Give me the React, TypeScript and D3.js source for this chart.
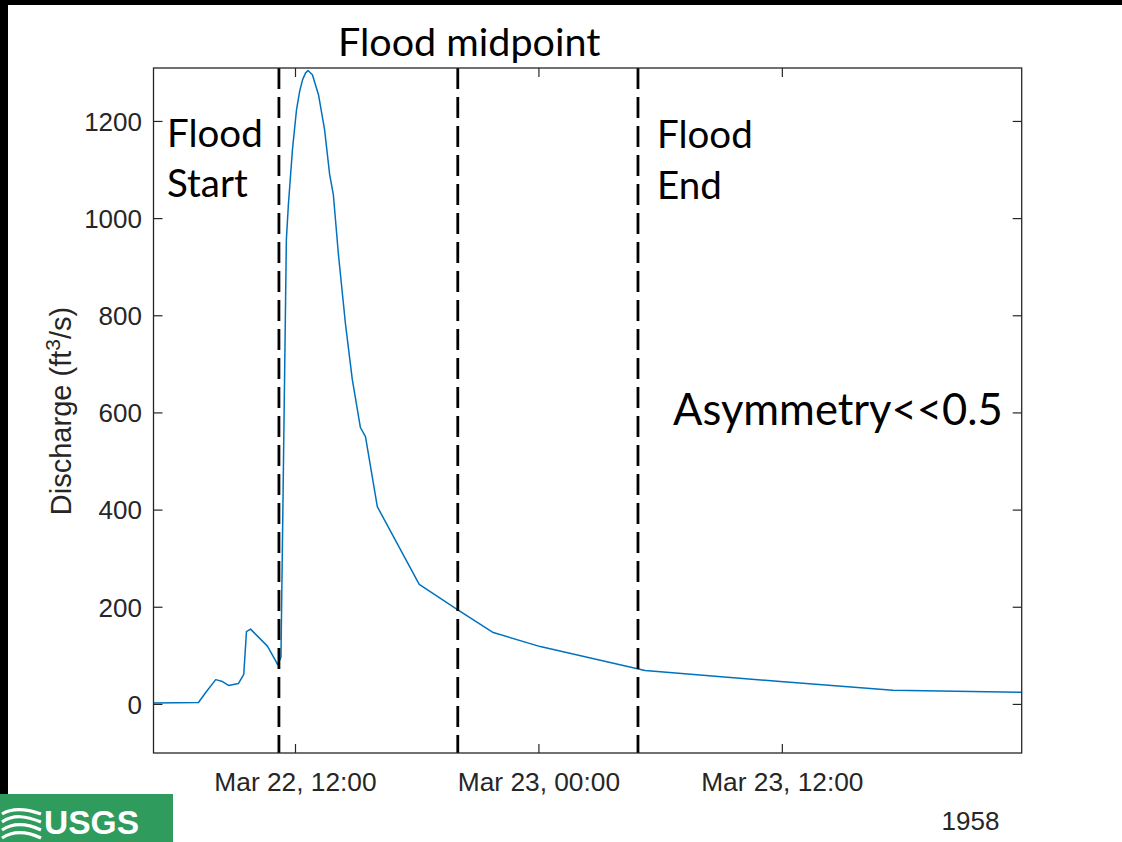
import React from "react";
import * as d3 from "d3";

// ---- data (discharge record, March 1958) ----
const times: string[] = [
  "1958-03-22 05:00", "1958-03-22 07:13", "1958-03-22 07:35", "1958-03-22 08:04",
  "1958-03-22 08:24", "1958-03-22 08:42", "1958-03-22 09:11", "1958-03-22 09:27",
  "1958-03-22 09:35", "1958-03-22 09:47", "1958-03-22 10:37", "1958-03-22 11:01",
  "1958-03-22 11:07", "1958-03-22 11:17", "1958-03-22 11:33", "1958-03-22 11:39",
  "1958-03-22 11:51", "1958-03-22 12:03", "1958-03-22 12:12", "1958-03-22 12:21",
  "1958-03-22 12:30", "1958-03-22 12:37", "1958-03-22 12:50", "1958-03-22 13:08",
  "1958-03-22 13:26", "1958-03-22 13:41", "1958-03-22 13:52", "1958-03-22 14:07",
  "1958-03-22 14:28", "1958-03-22 14:48", "1958-03-22 15:12", "1958-03-22 15:27",
  "1958-03-22 16:02", "1958-03-22 18:06", "1958-03-22 19:59", "1958-03-22 21:45",
  "1958-03-23 00:04", "1958-03-23 05:14", "1958-03-23 11:54", "1958-03-23 17:27",
  "1958-03-23 23:48",
];
const discharge: number[] = [
  3, 4, 25, 51,
  47, 39, 43, 62,
  150, 155, 120, 90,
  82, 97, 957, 1029,
  1142, 1224, 1261, 1286,
  1300, 1305, 1296, 1255,
  1183, 1091, 1049, 926,
  782, 669, 570, 551,
  407, 247, 195, 148,
  119, 70, 47, 29,
  25,
];

const floodMarkers: string[] = ["1958-03-22 11:11", "1958-03-22 20:00", "1958-03-23 04:53"];
const xTickTimes: string[] = ["1958-03-22 12:00", "1958-03-23 00:00", "1958-03-23 12:00"];
const xDomain: string[] = ["1958-03-22 05:00", "1958-03-23 23:48"];
const yTicks: number[] = [0, 200, 400, 600, 800, 1000, 1200];
const yDomain: number[] = [-100, 1310];
const yearLabel = "1958";
const yLabel = "Discharge (ft";
const annotations = {
  mid: "Flood midpoint",
  start: ["Flood", "Start"],
  end: ["Flood", "End"],
  asym: "Asymmetry<<0.5",
};

const parse = d3.timeParse("%Y-%m-%d %H:%M");
const fmt = d3.timeFormat("%b %d, %H:%M");

export default function App() {
  const W = 1122, H = 842;
  const left = 153.5, right = 1021.7, top = 68, bottom = 753;
  const x = d3.scaleTime()
    .domain(xDomain.map((s) => parse(s) as Date))
    .range([left, right]);
  const y = d3.scaleLinear().domain(yDomain).range([bottom, top]);

  const pts = times.map((t, i) => ({ t: parse(t) as Date, v: discharge[i] }));
  const line = d3.line<{ t: Date; v: number }>()
    .x((d) => x(d.t))
    .y((d) => y(d.v));

  const axisColor = "#262626";
  const tickLen = 9;
  const tickFont = "'Liberation Sans', Arial, Helvetica, sans-serif";
  const annFont = "Lato, 'Open Sans', sans-serif";

  return (
    <svg
      width={W}
      height={H}
      style={{ position: "absolute", left: 0, top: 0, background: "#fff" }}
    >
      <rect x={0} y={0} width={W} height={H} fill="#fff" />
      {/* black frame strips */}
      <rect x={0} y={0} width={W} height={5} fill="#000" />
      <rect x={0} y={0} width={8} height={794} fill="#000" />

      <clipPath id="plotclip">
        <rect x={left} y={top} width={right - left} height={bottom - top} />
      </clipPath>

      {/* data line */}
      <path
        d={line(pts) || ""}
        fill="none"
        stroke="#0072BD"
        strokeWidth={1.5}
        strokeLinejoin="round"
        clipPath="url(#plotclip)"
      />

      {/* flood markers */}
      {floodMarkers.map((s, i) => {
        const xx = x(parse(s) as Date);
        return (
          <line
            key={i}
            x1={xx}
            x2={xx}
            y1={top}
            y2={bottom}
            stroke="#000"
            strokeWidth={2.8}
            strokeDasharray="21 8"
          />
        );
      })}

      {/* ticks */}
      {xTickTimes.map((s, i) => {
        const xx = x(parse(s) as Date);
        return (
          <g key={"xt" + i}>
            <line x1={xx} x2={xx} y1={bottom} y2={bottom - tickLen} stroke={axisColor} strokeWidth={1.2} />
            <line x1={xx} x2={xx} y1={top} y2={top + tickLen} stroke={axisColor} strokeWidth={1.2} />
            <text
              x={xx}
              y={791}
              textAnchor="middle"
              fontFamily={tickFont}
              fontSize={26.3}
              fill={axisColor}
            >
              {fmt(parse(s) as Date)}
            </text>
          </g>
        );
      })}
      {yTicks.map((v, i) => {
        const yy = y(v);
        return (
          <g key={"yt" + i}>
            <line x1={left} x2={left + tickLen} y1={yy} y2={yy} stroke={axisColor} strokeWidth={1.2} />
            <line x1={right} x2={right - tickLen} y1={yy} y2={yy} stroke={axisColor} strokeWidth={1.2} />
            <text
              x={142}
              y={yy}
              dy="0.36em"
              textAnchor="end"
              fontFamily={tickFont}
              fontSize={26}
              fill={axisColor}
            >
              {v}
            </text>
          </g>
        );
      })}

      <rect
        x={left}
        y={top}
        width={right - left}
        height={bottom - top}
        fill="none"
        stroke={axisColor}
        strokeWidth={1.3}
      />

      {/* y label */}
      <text
        transform={`translate(71, ${411}) rotate(-90)`}
        textAnchor="middle"
        fontFamily={tickFont}
        fontSize={29}
        fill={axisColor}
      >
        {yLabel}
        <tspan dy={-11} fontSize={21}>3</tspan>
        <tspan dy={11}>/s)</tspan>
      </text>

      {/* year */}
      <text x={970.5} y={830} textAnchor="middle" fontFamily={tickFont} fontSize={26} fill={axisColor}>
        {yearLabel}
      </text>

      {/* annotations */}
      <text x={338} y={56} fontFamily={annFont} fontSize={39.5} fill="#000">
        {annotations.mid}
      </text>
      <text x={167} y={147} fontFamily={annFont} fontSize={38.5} fill="#000">
        {annotations.start[0]}
      </text>
      <text x={167} y={197} fontFamily={annFont} fontSize={38.5} fill="#000">
        {annotations.start[1]}
      </text>
      <text x={657} y={148} fontFamily={annFont} fontSize={38.5} fill="#000">
        {annotations.end[0]}
      </text>
      <text x={657} y={199} fontFamily={annFont} fontSize={38.5} fill="#000">
        {annotations.end[1]}
      </text>
      <text x={673} y={425} fontFamily={annFont} fontSize={43.5} fill="#000">
        {annotations.asym}
      </text>

      {/* USGS logo */}
      <g>
        <rect x={0} y={794} width={173} height={48} fill="#2f9c5d" />
        <g fill="none" stroke="#fff" strokeWidth={3.2}>
          <path d="M2 814 C 12 808, 24 808, 41 814" />
          <path d="M2 822 C 14 814, 26 816, 41 822" />
          <path d="M2 830 C 14 822, 28 824, 41 830" />
          <path d="M2 838 C 14 830, 28 832, 41 838" />
        </g>
        <text
          x={44}
          y={834}
          fontFamily="'Liberation Sans Narrow', 'Liberation Sans', Arial, sans-serif"
          fontWeight="bold"
          fontSize={33}
          fill="#fff"
          textLength={95}
          lengthAdjust="spacingAndGlyphs"
        >
          USGS
        </text>
      </g>
    </svg>
  );
}
